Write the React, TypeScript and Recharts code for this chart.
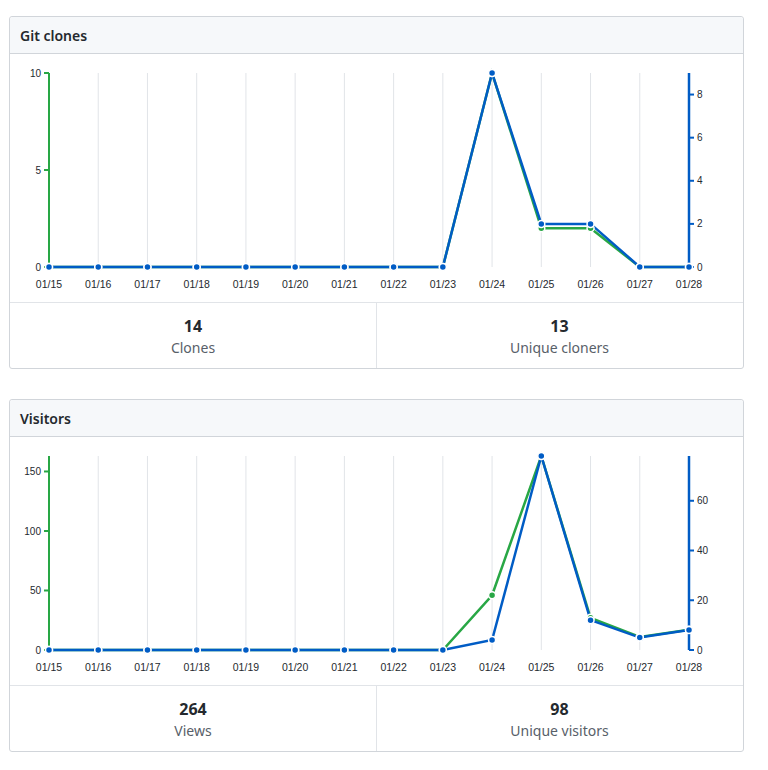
import React from 'react';
import { LineChart, Line, XAxis, YAxis, CartesianGrid } from 'recharts';

// Daily traffic, 14 days
const dates = ['01/15', '01/16', '01/17', '01/18', '01/19', '01/20', '01/21', '01/22', '01/23', '01/24', '01/25', '01/26', '01/27', '01/28'];
const clones = [0, 0, 0, 0, 0, 0, 0, 0, 0, 10, 2, 2, 0, 0];
const uniqueCloners = [0, 0, 0, 0, 0, 0, 0, 0, 0, 9, 2, 2, 0, 0];
const views = [0, 0, 0, 0, 0, 0, 0, 0, 0, 46, 163, 27, 11, 17];
const uniqueVisitors = [0, 0, 0, 0, 0, 0, 0, 0, 0, 4, 78, 12, 5, 8];

const clonesTicksLeft = [0, 5, 10];
const clonesTicksRight = [0, 2, 4, 6, 8];
const viewsTicksLeft = [0, 50, 100, 150];
const viewsTicksRight = [0, 20, 40, 60];

const GREEN = '#28a745';
const BLUE = '#005cc5';
const BORDER = '#d1d5da';
const INNER_BORDER = '#e1e4e8';
const UI_FONT = '"Segoe UI", "Noto Sans", "Liberation Sans", sans-serif';
const AXIS_FONT = '"Liberation Sans", Arial, sans-serif';

type Props = {
  title: string;
  left: number[];
  right: number[];
  leftTicks: number[];
  rightTicks: number[];
  leftTotal: number;
  rightTotal: number;
  leftLabel: string;
  rightLabel: string;
  marginTop: number;
};

const yTickStyle = { fontSize: 10, fill: '#24292e', fontFamily: AXIS_FONT };
const xTickStyle = { fontSize: 10.5, fill: '#24292e', fontFamily: AXIS_FONT };

function TrafficCard(p: Props) {
  const data = dates.map((d, i) => ({ date: d, a: p.left[i], b: p.right[i] }));
  return (
    <div
      style={{
        width: 735,
        boxSizing: 'border-box',
        border: `1px solid ${BORDER}`,
        borderRadius: 3,
        marginLeft: 1,
        marginTop: p.marginTop,
        fontFamily: UI_FONT,
        background: '#fff',
      }}
    >
      <div
        style={{
          height: 36,
          background: '#f6f8fa',
          borderBottom: `1px solid ${BORDER}`,
          paddingLeft: 10,
          display: 'flex',
          alignItems: 'center',
          fontSize: 14,
          fontWeight: 600,
          color: '#24292e',
          borderTopLeftRadius: 3,
          borderTopRightRadius: 3,
        }}
      >
        {p.title}
      </div>
      <LineChart width={733} height={248} data={data} margin={{ top: 19, right: 0, bottom: 0, left: 0 }}>
        <CartesianGrid horizontal={false} stroke={INNER_BORDER} />
        <XAxis
          dataKey="date"
          interval={0}
          axisLine={false}
          tickLine={false}
          tickSize={6}
          tickMargin={8}
          height={35}
          tick={xTickStyle}
        />
        <YAxis
          yAxisId="left"
          orientation="left"
          width={39}
          domain={[0, 'dataMax']}
          ticks={p.leftTicks}
          interval={0}
          axisLine={{ stroke: GREEN, strokeWidth: 2 }}
          tickLine={{ stroke: GREEN, strokeWidth: 2 }}
          tickSize={5}
          tickMargin={3}
          tick={yTickStyle}
        />
        <YAxis
          yAxisId="right"
          orientation="right"
          width={54}
          domain={[0, 'dataMax']}
          ticks={p.rightTicks}
          interval={0}
          axisLine={{ stroke: BLUE, strokeWidth: 2.5 }}
          tickLine={{ stroke: BLUE, strokeWidth: 2 }}
          tickSize={5}
          tickMargin={3}
          tick={yTickStyle}
        />
        <Line
          yAxisId="left"
          dataKey="a"
          type="linear"
          stroke={GREEN}
          strokeWidth={2.5}
          dot={{ r: 3.5, fill: GREEN, stroke: '#fff', strokeWidth: 1.5 }}
          isAnimationActive={false}
        />
        <Line
          yAxisId="right"
          dataKey="b"
          type="linear"
          stroke={BLUE}
          strokeWidth={2.5}
          dot={{ r: 3.5, fill: BLUE, stroke: '#fff', strokeWidth: 1.5 }}
          isAnimationActive={false}
        />
      </LineChart>
      <div style={{ display: 'flex', borderTop: `1px solid ${INNER_BORDER}`, height: 65 }}>
        {[
          [p.leftTotal, p.leftLabel],
          [p.rightTotal, p.rightLabel],
        ].map(([n, label], i) => (
          <div
            key={i}
            style={{
              width: 366,
              borderLeft: i === 1 ? `1px solid ${INNER_BORDER}` : 'none',
              textAlign: 'center',
              display: 'flex',
              flexDirection: 'column',
              justifyContent: 'center',
              paddingTop: 2,
              boxSizing: 'border-box',
            }}
          >
            <div style={{ fontSize: 16, fontWeight: 700, color: '#24292e', lineHeight: '22px' }}>{n}</div>
            <div style={{ fontSize: 14, color: '#586069', lineHeight: '22px' }}>{label}</div>
          </div>
        ))}
      </div>
    </div>
  );
}

export default function App() {
  return (
    <div style={{ width: 750 }}>
      <TrafficCard
        title="Git clones"
        left={clones}
        right={uniqueCloners}
        leftTicks={clonesTicksLeft}
        rightTicks={clonesTicksRight}
        leftTotal={14}
        rightTotal={13}
        leftLabel="Clones"
        rightLabel="Unique cloners"
        marginTop={8}
      />
      <TrafficCard
        title="Visitors"
        left={views}
        right={uniqueVisitors}
        leftTicks={viewsTicksLeft}
        rightTicks={viewsTicksRight}
        leftTotal={264}
        rightTotal={98}
        leftLabel="Views"
        rightLabel="Unique visitors"
        marginTop={30}
      />
    </div>
  );
}
